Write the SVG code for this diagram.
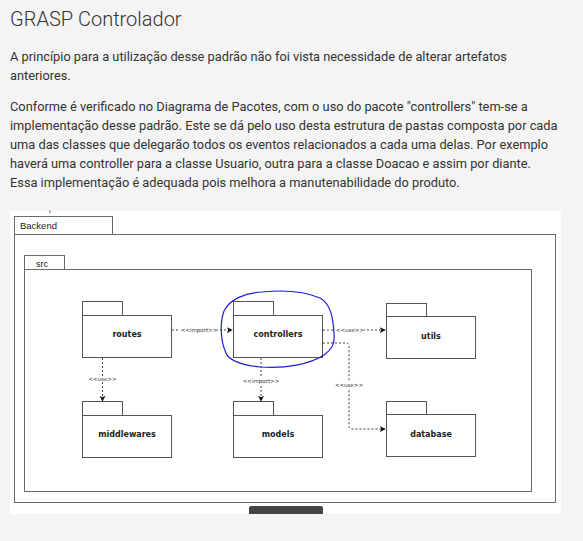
<svg xmlns="http://www.w3.org/2000/svg" width="583" height="541" viewBox="0 0 583 541">
  <defs>
    <marker id="arr" viewBox="0 0 8 8" refX="7" refY="4" markerWidth="6" markerHeight="6" markerUnits="userSpaceOnUse" orient="auto">
      <path d="M0,0 L8,4 L0,8 L2,4 Z" fill="#111"/>
    </marker>
    <style>
      .title { font-family: Roboto, "Liberation Sans", sans-serif; font-weight: 300; font-size: 20px; fill: #333; }
      .para { font-family: Roboto, "Liberation Sans", sans-serif; font-size: 12.8px; fill: #333; }
      .frame { fill: none; stroke: #6a6a6a; stroke-width: 1; }
      .frametxt { font-family: "Liberation Sans", Arial, sans-serif; font-size: 9.5px; fill: #222; }
      .pkg { fill: #fff; stroke: #555; stroke-width: 1; }
      .pkgtxt { font-family: "DejaVu Sans", Verdana, sans-serif; font-weight: bold; font-size: 8px; fill: #222; text-anchor: middle; dominant-baseline: central; }
      .conn { fill: none; stroke: #444; stroke-width: 1; stroke-dasharray: 2 2; }
      .lbl { font-family: "DejaVu Sans", Verdana, sans-serif; font-size: 5.5px; fill: #333; text-anchor: middle; dominant-baseline: central; }
      .lblbg { fill: #fff; }
      .mark { fill: none; stroke: #1c1cd0; stroke-width: 1.2; }
    </style>
  </defs>

  <rect x="0" y="0" width="583" height="541" fill="#f4f4f4"/>

  <text class="title" x="10" y="26">GRASP Controlador</text>
  <g id="text-body">
    <text class="para" x="10" y="61">A princípio para a utilização desse padrão não foi vista necessidade de alterar artefatos</text>
    <text class="para" x="10" y="80">anteriores.</text>
    <text class="para" x="10" y="111">Conforme é verificado no Diagrama de Pacotes, com o uso do pacote "controllers" tem-se a</text>
    <text class="para" x="10" y="130">implementação desse padrão. Este se dá pelo uso desta estrutura de pastas composta por cada</text>
    <text class="para" x="10" y="149">uma das classes que delegarão todos os eventos relacionados a cada uma delas. Por exemplo</text>
    <text class="para" x="10" y="168">haverá uma controller para a classe Usuario, outra para a classe Doacao e assim por diante.</text>
    <text class="para" x="10" y="187">Essa implementação é adequada pois melhora a manutenabilidade do produto.</text>
  </g>

  <rect x="10" y="211" width="551" height="303" fill="#fff"/>
  <line x1="50" y1="210.5" x2="50" y2="213" stroke="#555" stroke-width="1"/>

  <g id="backend">
    <rect class="frame" x="14.5" y="216.5" width="98" height="18"/>
    <rect class="frame" x="14.5" y="234.5" width="541" height="268"/>
    <text class="frametxt" x="20" y="229">Backend</text>
  </g>
  <g id="src">
    <rect class="frame" x="24.5" y="255.5" width="40" height="14"/>
    <rect class="frame" x="24.5" y="269.5" width="507" height="222"/>
    <text class="frametxt" x="36" y="266.5" style="font-size:9px">src</text>
  </g>

  <g id="connectors">
    <line class="conn" x1="172" y1="330" x2="232" y2="330" marker-end="url(#arr)"/>
    <rect class="lblbg" x="180" y="327" width="37" height="6"/>
    <text class="lbl" x="199" y="330">&lt;&lt;import&gt;&gt;</text>

    <line class="conn" x1="323" y1="330" x2="385" y2="330" marker-end="url(#arr)"/>
    <rect class="lblbg" x="335" y="327" width="29" height="6"/>
    <text class="lbl" x="350" y="330">&lt;&lt;use&gt;&gt;</text>

    <path class="conn" d="M323,343 H346 Q349,343 349,346 V426 Q349,429 352,429 H385" marker-end="url(#arr)"/>
    <rect class="lblbg" x="335" y="382" width="29" height="6"/>
    <text class="lbl" x="349" y="385">&lt;&lt;use&gt;&gt;</text>

    <line class="conn" x1="102.5" y1="358" x2="102.5" y2="401" marker-end="url(#arr)"/>
    <rect class="lblbg" x="88" y="376" width="29" height="6"/>
    <text class="lbl" x="102.5" y="379">&lt;&lt;use&gt;&gt;</text>

    <line class="conn" x1="261" y1="358" x2="261" y2="401" marker-end="url(#arr)"/>
    <rect class="lblbg" x="242" y="378" width="38" height="6"/>
    <text class="lbl" x="261" y="381">&lt;&lt;import&gt;&gt;</text>
  </g>

  <g id="routes">
    <rect class="pkg" x="82.5" y="301.5" width="40" height="14"/>
    <rect class="pkg" x="82.5" y="315.5" width="89" height="42"/>
    <text class="pkgtxt" x="127" y="334.5">routes</text>
  </g>
  <g id="controllers">
    <rect class="pkg" x="233.5" y="301.5" width="40" height="14"/>
    <rect class="pkg" x="233.5" y="315.5" width="89" height="42"/>
    <text class="pkgtxt" x="278" y="334.5">controllers</text>
  </g>
  <g id="utils">
    <rect class="pkg" x="386.5" y="303.5" width="40" height="13"/>
    <rect class="pkg" x="386.5" y="316.5" width="89" height="42"/>
    <text class="pkgtxt" x="431" y="336">utils</text>
  </g>
  <g id="middlewares">
    <rect class="pkg" x="82.5" y="401.5" width="40" height="14"/>
    <rect class="pkg" x="82.5" y="415.5" width="89" height="42"/>
    <text class="pkgtxt" x="127" y="434.5">middlewares</text>
  </g>
  <g id="models">
    <rect class="pkg" x="233.5" y="401.5" width="40" height="14"/>
    <rect class="pkg" x="233.5" y="415.5" width="89" height="42"/>
    <text class="pkgtxt" x="278" y="434.5">models</text>
  </g>
  <g id="database">
    <rect class="pkg" x="386.5" y="401.5" width="40" height="13"/>
    <rect class="pkg" x="386.5" y="414.5" width="89" height="42"/>
    <text class="pkgtxt" x="431" y="434.5">database</text>
  </g>

  <path id="highlight" class="mark" d="M262,292 C282,290 304,291 320,298 C331,304 333,318 334,333 C335,343 333,348 324,355 C310,364 286,369 260,367 C242,365 229,361 226,353 C220,340 220,322 224,311 C230,299 245,293 262,292 Z"/>

  <path id="button" d="M249,514 V508 Q249,506 251,506 H321 Q323,506 323,508 V514 Z" fill="#454545"/>
</svg>
